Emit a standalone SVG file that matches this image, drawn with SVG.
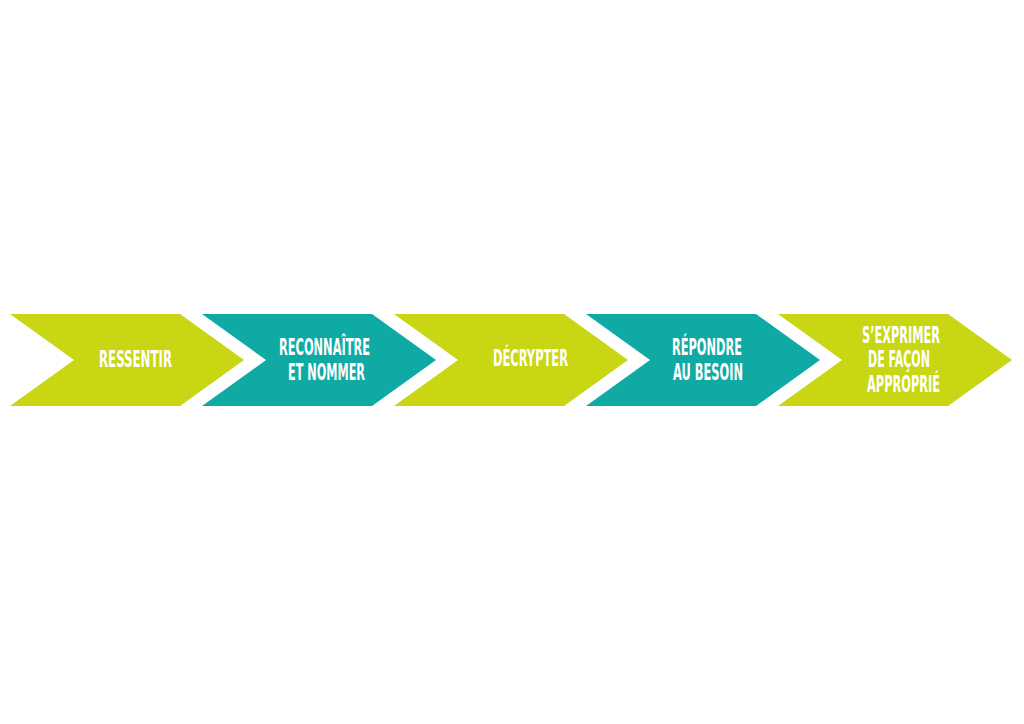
<svg xmlns="http://www.w3.org/2000/svg" width="1024" height="724" viewBox="0 0 1024 724">
<style>
.lime{fill:#C8D614}
.teal{fill:#10AAA4}
.t{fill:#FFFFFF;font-family:"DejaVu Sans","Liberation Sans",sans-serif;font-weight:bold;font-stretch:condensed;font-size:22.5px}
</style>
<rect width="1024" height="724" fill="#FFFFFF"/>
<g id="step1">
<polygon class="lime" points="10,314 180,314 244,360 180,406 10,406 74,360"/>
<text class="t" x="99" y="367" textLength="73" lengthAdjust="spacingAndGlyphs">RESSENTIR</text>
</g>
<g id="step2">
<polygon class="teal" points="202,314 372,314 436,360 372,406 202,406 266,360"/>
<text class="t" x="279" y="355" textLength="91" lengthAdjust="spacingAndGlyphs">RECONNAÎTRE</text>
<text class="t" x="288" y="380" textLength="77" lengthAdjust="spacingAndGlyphs">ET NOMMER</text>
</g>
<g id="step3">
<polygon class="lime" points="394,314 564,314 628,360 564,406 394,406 458,360"/>
<text class="t" x="493" y="366" textLength="75" lengthAdjust="spacingAndGlyphs">DÉCRYPTER</text>
</g>
<g id="step4">
<polygon class="teal" points="586,314 756,314 820,360 756,406 586,406 650,360"/>
<text class="t" x="672" y="355" textLength="70" lengthAdjust="spacingAndGlyphs">RÉPONDRE</text>
<text class="t" x="673" y="380" textLength="70" lengthAdjust="spacingAndGlyphs">AU BESOIN</text>
</g>
<g id="step5">
<polygon class="lime" points="778,314 948,314 1012,360 948,406 778,406 842,360"/>
<text class="t" x="862" y="343" textLength="78" lengthAdjust="spacingAndGlyphs">S’EXPRIMER</text>
<text class="t" x="868" y="367" textLength="62" lengthAdjust="spacingAndGlyphs">DE FAÇON</text>
<text class="t" x="867" y="392" textLength="73" lengthAdjust="spacingAndGlyphs">APPROPRIÉ</text>
</g>
<g id="connectors"></g>
</svg>
